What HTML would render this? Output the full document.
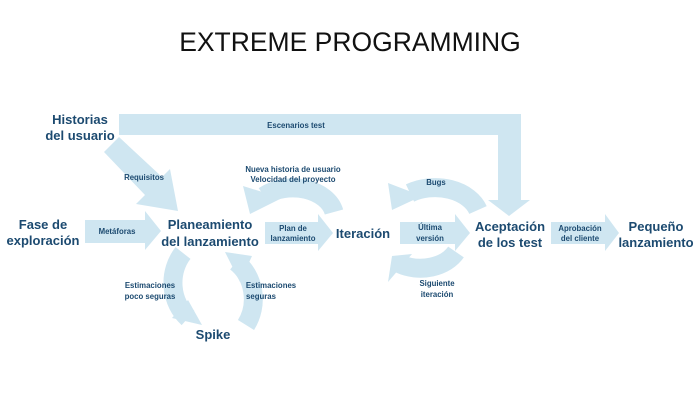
<!DOCTYPE html>
<html><head><meta charset="utf-8"><style>
body{margin:0;background:#fff;}
svg{display:block;font-family:"Liberation Sans",sans-serif;}
.n{fill:#1c4a70;font-size:13px;text-anchor:middle;font-weight:bold;}
.l{fill:#1c4a70;font-size:7.8px;text-anchor:middle;font-weight:bold;}
</style></head><body>
<svg width="700" height="401" viewBox="0 0 700 401">
<g fill="#cfe6f1" stroke="none">
<polygon points="119,114 521,114 521,200 530,200 509,216 488,200 498,200 498,135 119,135"/>
<polygon points="104,152 119,137 162,177 170,169 178,211 136,204 145,195"/>
<polygon points="85,220 145,220 145,211 161,231 145,250 145,243 85,243"/>
<polygon points="265,222 318,222 318,214 333,233 318,251 318,244 265,244"/>
<polygon points="400,222 455,222 455,214 470,233 455,251 455,244 400,244"/>
<polygon points="551,222 605,222 605,214 619,233 605,251 605,244 551,244"/>
</g>
<g fill="none" stroke="#cfe6f1" stroke-width="19">
<path d="M334,212 A42,30 0 0 0 264,196"/>
<path d="M478,210 A45,32 0 0 0 410,193"/>
<path d="M456,252 A40,30 0 0 1 400,264"/>
<path d="M183,253 A40,45 0 0 0 188,318"/>
<path d="M246,325 A40,45 0 0 0 236,262"/>
</g>
<g fill="#cfe6f1">
<polygon points="243,186 282,198 250,214"/>
<polygon points="388,183 422,196 392,210"/>
<polygon points="388,282 412,254 392,256"/>
<polygon points="172,318 202,325 188,300"/>
<polygon points="225,252 252,256 240,282"/>
</g>
<text x="350" y="51" text-anchor="middle" font-size="26.5" fill="#111">EXTREME PROGRAMMING</text>
<text class="n" x="80" y="124">Historias</text>
<text class="n" x="80" y="140">del usuario</text>
<text class="n" x="43" y="229">Fase de</text>
<text class="n" x="43" y="245">exploración</text>
<text class="n" x="210" y="229">Planeamiento</text>
<text class="n" x="210" y="246">del lanzamiento</text>
<text class="n" x="363" y="238">Iteración</text>
<text class="n" x="510" y="231">Aceptación</text>
<text class="n" x="510" y="247">de los test</text>
<text class="n" x="656" y="231">Pequeño</text>
<text class="n" x="656" y="247">lanzamiento</text>
<text class="n" x="213" y="339">Spike</text>
<text class="l" x="296" y="128">Escenarios test</text>
<text class="l" x="144" y="180">Requisitos</text>
<text class="l" x="117" y="234">Metáforas</text>
<text class="l" x="293" y="172">Nueva historia de usuario</text>
<text class="l" x="293" y="182">Velocidad del proyecto</text>
<text class="l" x="293" y="231">Plan de</text>
<text class="l" x="293" y="241">lanzamiento</text>
<text class="l" x="150" y="288">Estimaciones</text>
<text class="l" x="150" y="299">poco seguras</text>
<text class="l" x="271" y="288">Estimaciones</text>
<text class="l" x="261" y="299">seguras</text>
<text class="l" x="436" y="185">Bugs</text>
<text class="l" x="430" y="230">Última</text>
<text class="l" x="430" y="241">versión</text>
<text class="l" x="437" y="286">Siguiente</text>
<text class="l" x="437" y="297">iteración</text>
<text class="l" x="580" y="231">Aprobación</text>
<text class="l" x="580" y="241">del cliente</text>
</svg>
</body></html>
